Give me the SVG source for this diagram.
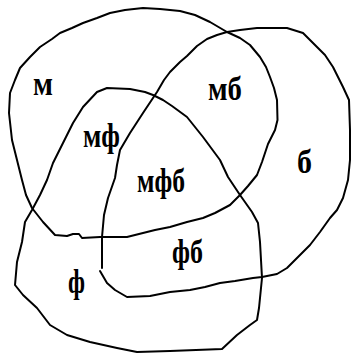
<svg xmlns="http://www.w3.org/2000/svg" width="351" height="355" viewBox="0 0 351 355">
<style>
.c{fill:none;stroke:#000;stroke-width:2;stroke-linejoin:round;stroke-linecap:round}
.t{font-family:"Liberation Serif","Times New Roman",serif;font-weight:bold;font-size:34px;fill:#000}
</style>
<rect width="351" height="355" fill="#fff"/>
<g id="connectors">
<path id="set-m" class="c" d="M15,80 L20,68 L30,57 L40,47 L52,39 L60,33 L72,28 L83,23 L97,18 L110,13 L125,10 L143,8 L160,9 L180,11 L195,15 L210,22 L227,32 L240,38 L250,45 L260,57 L266,67 L270,77 L274,88 L277,100 L277.5,120 L275,130 L270,140 L268,144 L266,150 L262,162 L257,175 L248,186 L240,195 L230,205 L215,213 L203,218 L187,222 L170,227 L155,230 L143,233 L127,237 L100,237 L82,238 L79,234 L73,234 L67,236 L55,235 L43,222 L32,208 L26,195 L22,180 L17,160 L12,140 L9,113 L10,93 Z"/>
<path id="set-b" class="c" d="M102,268 L102,237 L104,215 L108,198 L115,178 L117,165 L120,150 L130,133 L143,113 L157,92 L164,80 L170,72 L180,62 L187,56 L197,46 L207,39 L217,35 L227,32 L240,30 L257,28 L275,28 L287,28 L303,33 L317,47 L325,55 L333,67 L343,87 L349,100 L350,130 L350,160 L348,180 L343,198 L337,210 L330,218 L320,232 L310,245 L298,257 L287,268 L277,274 L262,277 L253,278 L235,281 L220,283 L205,287 L190,290 L170,292 L150,296 L127,297 L115,290 L107,283 L100,271"/>
<path id="set-f" class="c" d="M107,88 L130,89 L145,92 L153,95 L163,100 L172,106 L187,117 L203,137 L220,160 L228,177 L240,195 L252,212 L258,223 L260,242 L262,278 L259,308 L257,320 L250,325 L237,335 L222,349 L170,351 L137,352 L117,348 L90,342 L67,335 L50,325 L37,308 L23,295 L15,285 L17,262 L22,242 L25,222 L32,210 L40,195 L47,180 L53,163 L63,143 L73,123 L83,107 L97,92 Z"/>
</g>
<g id="label-m"><text class="t" x="33" y="95" textLength="20" lengthAdjust="spacingAndGlyphs">м</text></g>
<g id="label-mb"><text class="t" x="208" y="100" textLength="34" lengthAdjust="spacingAndGlyphs">мб</text></g>
<g id="label-mf"><text class="t" x="83" y="147" textLength="37" lengthAdjust="spacingAndGlyphs">мф</text></g>
<g id="label-mfb"><text class="t" x="137" y="192" textLength="48" lengthAdjust="spacingAndGlyphs">мфб</text></g>
<g id="label-b"><text class="t" x="297" y="173" textLength="15" lengthAdjust="spacingAndGlyphs">б</text></g>
<g id="label-fb"><text class="t" x="172" y="263" textLength="31" lengthAdjust="spacingAndGlyphs">фб</text></g>
<g id="label-f"><text class="t" x="68" y="293" textLength="17" lengthAdjust="spacingAndGlyphs">ф</text></g>
</svg>
